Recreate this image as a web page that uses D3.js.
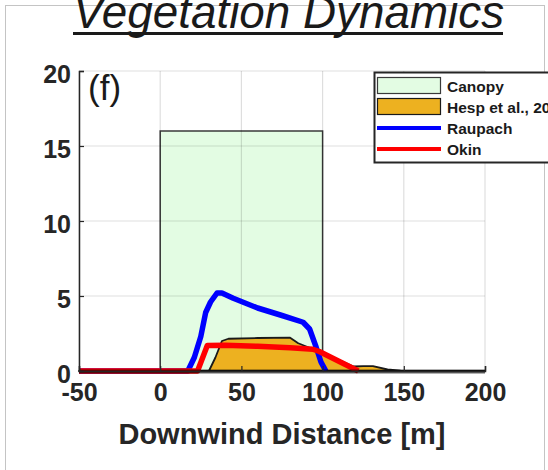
<!DOCTYPE html>
<html><head><meta charset="utf-8">
<script src="https://cdn.jsdelivr.net/npm/d3@7"></script>
<style>
body{margin:0;background:#fff;overflow:hidden}
svg{display:block}
text{font-family:"Liberation Sans",Arial,Helvetica,sans-serif}
</style>
</head><body>
<svg id="chart" width="548" height="470"></svg>
<script>
// Axis ticks
const xTicks = [-50, 0, 50, 100, 150, 200];
const yTicks = [0, 5, 10, 15, 20];

// Canopy block (downwind extent and height, m)
const canopyX = [0, 100];
const canopyHeight = 16;

// Hesp et al. deposition profile (m)
const hespX = [-50, 30, 34, 38, 42, 60, 80, 85, 100, 110, 119, 125, 131, 140, 148, 200];
const hespY = [0, 0, 0.9, 2.0, 2.15, 2.2, 2.22, 1.85, 1.2, 0.75, 0.3, 0.32, 0.33, 0.1, 0.02, 0];

// Raupach model
const raupachX = [-50, 17, 21, 25, 28, 31, 35, 38, 45, 60, 75, 88, 92, 96, 99, 102];
const raupachY = [0, 0, 0.9, 2.3, 3.9, 4.6, 5.2, 5.2, 4.85, 4.2, 3.7, 3.25, 2.8, 1.6, 0.6, 0];

// Okin model
const okinX = [-50, 23, 29, 40, 60, 80, 94, 98, 122];
const okinY = [0, 0, 1.7, 1.72, 1.65, 1.55, 1.45, 1.3, 0];

const legendLabels = ["Canopy", "Hesp et al., 20", "Raupach", "Okin"];

const svg = d3.select("#chart");
const ink = "#262626";

const x = d3.scaleLinear().domain([-50, 200]).range([79, 485]);
const y = d3.scaleLinear().domain([0, 20]).range([371, 71]);

// outer figure frame
svg.append("rect").attr("x", 5.5).attr("y", 5.5).attr("width", 539).attr("height", 480)
  .attr("fill", "none").attr("stroke", "#c4c4c4").attr("stroke-width", 1);

// title
svg.append("text").attr("x", 73).attr("y", 28)
  .attr("font-size", 45.8).attr("font-style", "italic").attr("fill", "#1a1a1a")
  .text("Vegetation Dynamics");
svg.append("line").attr("x1", 73).attr("x2", 503).attr("y1", 33.5).attr("y2", 33.5)
  .attr("stroke", "#1a1a1a").attr("stroke-width", 3);

// canopy
svg.append("rect")
  .attr("x", x(canopyX[0])).attr("y", y(canopyHeight))
  .attr("width", x(canopyX[1]) - x(canopyX[0])).attr("height", y(0) - y(canopyHeight))
  .attr("fill", "#e3fce3").attr("stroke", "#3a3a3a").attr("stroke-width", 1.5);

// grid
const grid = svg.append("g").attr("stroke", "#000").attr("stroke-opacity", 0.13).attr("stroke-width", 1.2);
xTicks.forEach(t => grid.append("line").attr("x1", x(t)).attr("x2", x(t)).attr("y1", y(0)).attr("y2", y(20)));
yTicks.forEach(t => grid.append("line").attr("x1", x(-50)).attr("x2", x(200)).attr("y1", y(t)).attr("y2", y(t)));

// Hesp profile
const hesp = hespX.map((d, i) => [d, hespY[i]]);
svg.append("path")
  .attr("d", d3.area().x(d => x(d[0])).y0(y(0)).y1(d => y(d[1]))(hesp))
  .attr("fill", "#EDB120").attr("stroke", "#1a1a1a").attr("stroke-width", 1.8)
  .attr("stroke-linejoin", "round");

const lineGen = d3.line().x(d => x(d[0])).y(d => y(d[1]));

// Raupach and Okin
svg.append("path").attr("d", lineGen(raupachX.map((d, i) => [d, raupachY[i]])))
  .attr("fill", "none").attr("stroke", "#0000ff").attr("stroke-width", 5.5)
  .attr("stroke-linejoin", "round");
svg.append("path").attr("d", lineGen(okinX.map((d, i) => [d, okinY[i]])))
  .attr("fill", "none").attr("stroke", "#ff0000").attr("stroke-width", 5.5)
  .attr("stroke-linejoin", "round");

// ground edge of the deposition patch
svg.append("line").attr("x1", x(-50)).attr("x2", x(200)).attr("y1", y(0) + 0.5).attr("y2", y(0) + 0.5)
  .attr("stroke", "#000").attr("stroke-opacity", 0.6).attr("stroke-width", 4);

// axes
const fmt = d => String(d);
const yAxis = d3.axisLeft(y).tickValues(yTicks).tickSize(-5).tickPadding(8).tickFormat(fmt);
const gy = svg.append("g").attr("transform", `translate(${x(-50)},0)`).call(yAxis);
const xAxis = d3.axisBottom(x).tickValues(xTicks).tickSize(-5).tickPadding(16).tickFormat(fmt);
const gx = svg.append("g").attr("transform", `translate(0,${y(0)})`).call(xAxis);
[gx, gy].forEach(g => {
  g.select(".domain").attr("stroke", ink).attr("stroke-width", 1.5);
  g.selectAll(".tick line").attr("stroke", ink).attr("stroke-width", 1.2);
  g.selectAll(".tick text").attr("fill", ink).attr("font-size", 25).attr("font-weight", "bold")
    .attr("font-family", '"Liberation Sans",Arial,sans-serif');
});
gy.selectAll(".tick text").attr("dy", "0.45em");
gx.selectAll(".tick text").attr("dy", "0.55em");

// x axis title
svg.append("text").attr("x", 282).attr("y", 444).attr("text-anchor", "middle")
  .attr("font-size", 29).attr("font-weight", "bold").attr("fill", ink)
  .text("Downwind Distance [m]");

// panel letter
svg.append("text").attr("x", 88).attr("y", 100).attr("font-size", 35).attr("fill", "#1a1a1a").text("(f)");

// legend
const lg = svg.append("g");
lg.append("rect").attr("x", 374.5).attr("y", 72.5).attr("width", 200).attr("height", 90)
  .attr("fill", "#fff").attr("stroke", ink).attr("stroke-width", 2);
lg.append("rect").attr("x", 377.5).attr("y", 77.5).attr("width", 63).attr("height", 16)
  .attr("fill", "#e3fce3").attr("stroke", "#3a3a3a").attr("stroke-width", 1.2);
lg.append("rect").attr("x", 377.5).attr("y", 98.5).attr("width", 63).attr("height", 16)
  .attr("fill", "#EDB120").attr("stroke", "#1a1a1a").attr("stroke-width", 1.2);
lg.append("line").attr("x1", 377).attr("x2", 441).attr("y1", 128).attr("y2", 128)
  .attr("stroke", "#0000ff").attr("stroke-width", 4);
lg.append("line").attr("x1", 377).attr("x2", 441).attr("y1", 149).attr("y2", 149)
  .attr("stroke", "#ff0000").attr("stroke-width", 4);
const rowY = [86, 107, 128, 149];
legendLabels.forEach((t, i) => {
  lg.append("text").attr("x", 447).attr("y", rowY[i]).attr("dy", "0.36em")
    .attr("font-size", 15.5).attr("font-weight", "bold").attr("fill", "#1a1a1a").text(t);
});
</script>
</body></html>
